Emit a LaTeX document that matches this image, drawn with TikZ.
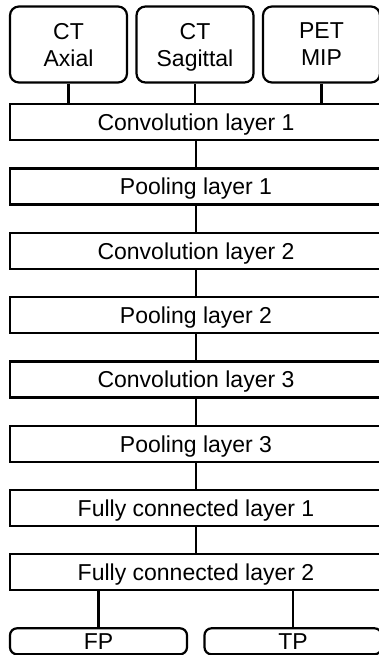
\documentclass[tikz,border=0pt]{standalone}
\usepackage{fontspec}
\setmainfont{Liberation Sans}
\usepackage{tikz}
\usetikzlibrary{positioning}

\begin{document}
\begin{tikzpicture}[x=1pt, y=-1pt,
    inputbox/.style={draw, line width=2.2pt, rectangle, rounded corners=9pt, minimum width=117pt, minimum height=76pt, align=center, inner sep=0pt, text depth=0pt, font=\fontsize{23}{27}\selectfont},
    layerbox/.style={draw, line width=2.2pt, rectangle, minimum width=372pt, minimum height=36pt, inner sep=0pt, text depth=0pt, font=\fontsize{23}{27}\selectfont},
    outbox/.style={draw, line width=2.2pt, rectangle, rounded corners=7pt, minimum width=177pt, minimum height=26pt, inner sep=0pt, text depth=0pt, font=\fontsize{23}{27}\selectfont},
    link/.style={line width=2.2pt}]
    \useasboundingbox (0,0) rectangle (379,655);

    \node[inputbox] (ct_axial) at (68.5,44.5) {CT\\Axial};
    \node[inputbox] (ct_sagittal) at (195,44.5) {CT\\Sagittal};
    \node[inputbox] (pet_mip) at (321.5,44.5) {PET\\MIP};

    \node[layerbox] (conv1) at (196,122.2) {Convolution layer 1};
    \node[layerbox] (pool1) at (196,186.5) {Pooling layer 1};
    \node[layerbox] (conv2) at (196,250.8) {Convolution layer 2};
    \node[layerbox] (pool2) at (196,315.1) {Pooling layer 2};
    \node[layerbox] (conv3) at (196,379.4) {Convolution layer 3};
    \node[layerbox] (pool3) at (196,443.7) {Pooling layer 3};
    \node[layerbox] (fc1) at (196,508) {Fully connected layer 1};
    \node[layerbox] (fc2) at (196,572.3) {Fully connected layer 2};

    \node[outbox] (fp) at (98.5,641.3) {FP};
    \node[outbox] (tp) at (293,641.3) {TP};

    \draw[link] (ct_axial.south) -- (ct_axial.south |- conv1.north);
    \draw[link] (ct_sagittal.south) -- (ct_sagittal.south |- conv1.north);
    \draw[link] (pet_mip.south) -- (pet_mip.south |- conv1.north);

    \draw[link] (conv1) -- (pool1);
    \draw[link] (pool1) -- (conv2);
    \draw[link] (conv2) -- (pool2);
    \draw[link] (pool2) -- (conv3);
    \draw[link] (conv3) -- (pool3);
    \draw[link] (pool3) -- (fc1);
    \draw[link] (fc1) -- (fc2);

    \draw[link] (fp.north |- fc2.south) -- (fp.north);
    \draw[link] (tp.north |- fc2.south) -- (tp.north);
\end{tikzpicture}
\end{document}
